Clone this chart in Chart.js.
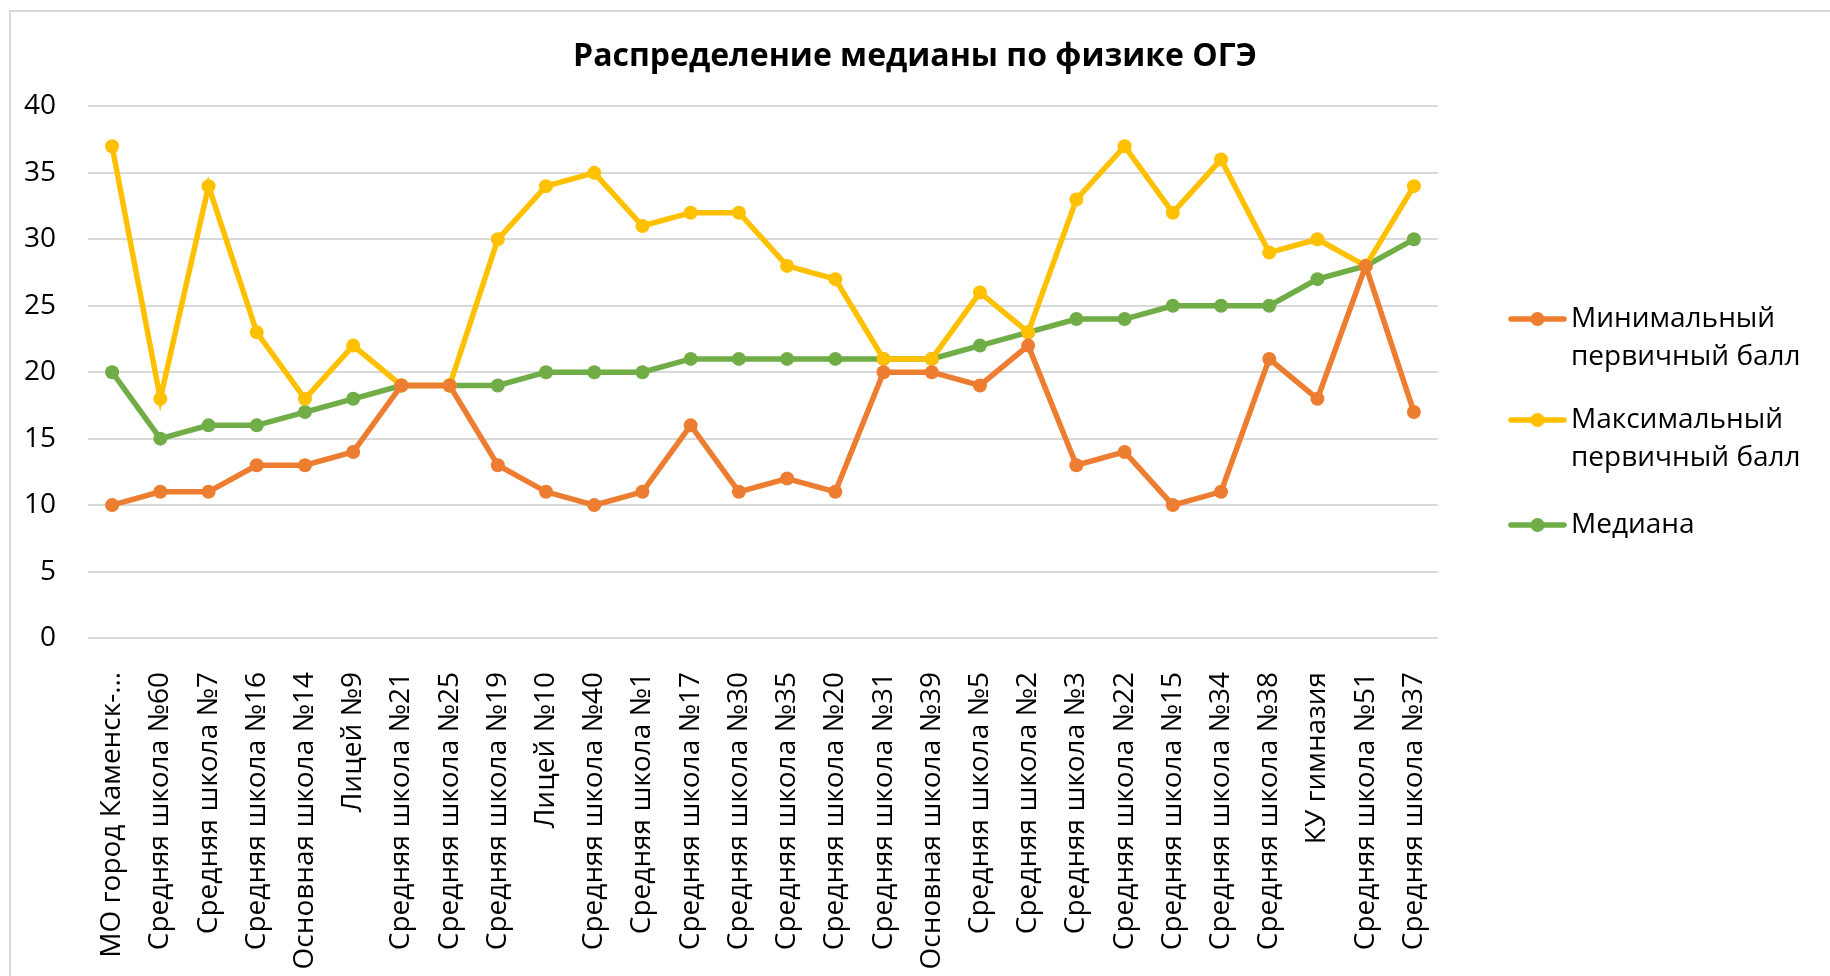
<!DOCTYPE html>
<html lang="ru">
<head>
<meta charset="utf-8">
<title>Распределение медианы по физике ОГЭ</title>
<script src="https://cdn.jsdelivr.net/npm/chart.js@4/dist/chart.umd.min.js"></script>
<style>
    html, body { margin: 0; padding: 0; background: #fff; }
    #frame {
        position: absolute; left: 9px; top: 10px; right: -10px; bottom: -10px;
        border-top: 2px solid #d9d9d9; border-left: 2px solid #d9d9d9;
    }
    #wrap { position: absolute; left: 0; top: 0; width: 1830px; height: 976px; }
</style>
</head>
<body>
<div id="frame"></div>
<div id="wrap"><canvas id="myChart"></canvas></div>
<script>
// Медиана по физике ОГЭ по школам

const schools = [
    'МО город Каменск-…', 'Средняя школа №60', 'Средняя школа №7', 'Средняя школа №16',
    'Основная школа №14', 'Лицей №9', 'Средняя школа №21', 'Средняя школа №25',
    'Средняя школа №19', 'Лицей №10', 'Средняя школа №40', 'Средняя школа №1',
    'Средняя школа №17', 'Средняя школа №30', 'Средняя школа №35', 'Средняя школа №20',
    'Средняя школа №31', 'Основная школа №39', 'Средняя школа №5', 'Средняя школа №2',
    'Средняя школа №3', 'Средняя школа №22', 'Средняя школа №15', 'Средняя школа №34',
    'Средняя школа №38', 'КУ гимназия', 'Средняя школа №51', 'Средняя школа №37'
];

const minScore = [10, 11, 11, 13, 13, 14, 19, 19, 13, 11, 10, 11, 16, 11, 12, 11, 20, 20, 19, 22, 13, 14, 10, 11, 21, 18, 28, 17];
const maxScore = [37, 18, 34, 23, 18, 22, 19, 19, 30, 34, 35, 31, 32, 32, 28, 27, 21, 21, 26, 23, 33, 37, 32, 36, 29, 30, 28, 34];
const median   = [20, 15, 16, 16, 17, 18, 19, 19, 19, 20, 20, 20, 21, 21, 21, 21, 21, 21, 22, 23, 24, 24, 25, 25, 25, 27, 28, 30];

const seriesNames = ['Минимальный первичный балл', 'Максимальный первичный балл', 'Медиана'];
const yTicks = [0, 5, 10, 15, 20, 25, 30, 35, 40];

const FONT = "'Open Sans', sans-serif";

const makeSeries = (label, data, color) => ({
    label: label,
    data: data,
    borderColor: color,
    backgroundColor: color,
    borderWidth: 5.5,
    pointRadius: 7,
    pointHoverRadius: 7,
    pointBorderWidth: 0,
    tension: 0
});

// легенда справа, подписи переносятся по словам
const sideLegend = {
    id: 'sideLegend',
    afterDraw(chart) {
        const ctx = chart.ctx;
        const x0 = 1511, lineLen = 53, textX = 1571, maxW = 250, lineH = 38.5;
        const rows = [319, 420, 525];
        ctx.save();
        ctx.font = '28px ' + FONT;
        ctx.textBaseline = 'middle';
        ctx.textAlign = 'left';
        chart.data.datasets.forEach((ds, i) => {
            const y = rows[i];
            ctx.strokeStyle = ds.borderColor;
            ctx.lineWidth = ds.borderWidth;
            ctx.lineCap = 'round';
            ctx.beginPath();
            ctx.moveTo(x0, y);
            ctx.lineTo(x0 + lineLen, y);
            ctx.stroke();
            ctx.fillStyle = ds.borderColor;
            ctx.beginPath();
            ctx.arc(x0 + lineLen / 2, y, ds.pointRadius, 0, Math.PI * 2);
            ctx.fill();

            const words = ds.label.split(' ');
            const lines = [];
            let cur = '';
            words.forEach(w => {
                const test = cur ? cur + ' ' + w : w;
                if (cur && ctx.measureText(test).width > maxW) {
                    lines.push(cur);
                    cur = w;
                } else {
                    cur = test;
                }
            });
            lines.push(cur);
            ctx.fillStyle = '#000';
            lines.forEach((ln, k) => ctx.fillText(ln, textX, y + k * lineH));
        });
        ctx.restore();
    }
};

const chart = document.getElementById('myChart');

new Chart(chart, {
    type: 'line',
    data: {
        labels: schools,
        datasets: [
            makeSeries(seriesNames[0], minScore, '#ED7D31'),
            makeSeries(seriesNames[1], maxScore, '#FFC000'),
            makeSeries(seriesNames[2], median, '#70AD47')
        ]
    },
    plugins: [sideLegend],
    options: {
        responsive: true,
        maintainAspectRatio: false,
        animation: false,
        events: [],
        layout: {
            padding: 0
        },
        plugins: {
            legend: { display: false },
            tooltip: { enabled: false },
            title: {
                display: true,
                text: 'Распределение медианы по физике ОГЭ',
                color: '#000',
                font: { family: FONT, size: 32, weight: 'bold', lineHeight: 1.2 },
                padding: { top: 38, bottom: 30 }
            }
        },
        scales: {
            x: {
                offset: true,
                grid: { display: false },
                border: { display: false },
                ticks: {
                    autoSkip: false,
                    minRotation: 90,
                    maxRotation: 90,
                    padding: 26,
                    color: '#000',
                    font: { family: FONT, size: 28 }
                },
                afterFit(scale) { scale.height = 976 - 638; }
            },
            y: {
                min: 0,
                max: 40,
                afterBuildTicks(scale) { scale.ticks = yTicks.map(v => ({ value: v })); },
                grid: { color: '#d9d9d9', lineWidth: 2, drawTicks: false },
                border: { display: false },
                ticks: {
                    padding: 32,
                    color: '#000',
                    font: { family: FONT, size: 28 }
                },
                afterFit(scale) { scale.width = 88; }
            },
            // пустая ось справа оставляет место под легенду
            side: {
                position: 'right',
                min: 0,
                max: 40,
                grid: { display: false, drawTicks: false },
                border: { display: false },
                ticks: { display: false },
                afterFit(scale) { scale.width = 1830 - 1438; }
            }
        }
    }
});
</script>
</body>
</html>
